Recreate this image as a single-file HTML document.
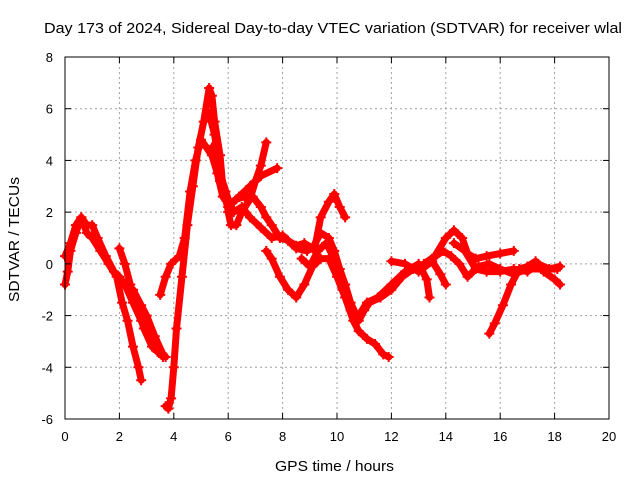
<!DOCTYPE html>
<html><head><meta charset="utf-8"><style>
html,body{margin:0;padding:0;background:#fff;}
svg{display:block;font-family:"Liberation Sans",sans-serif;}
</style></head><body>
<svg id="c" width="640" height="480">
<text x="44" y="33" font-size="15" textLength="578" lengthAdjust="spacingAndGlyphs">Day 173 of 2024, Sidereal Day-to-day VTEC variation (SDTVAR) for receiver wlal</text>
<text x="275" y="471" font-size="15" textLength="119" lengthAdjust="spacingAndGlyphs">GPS time / hours</text>
<text transform="translate(19,302) rotate(-90)" font-size="15" textLength="125" lengthAdjust="spacingAndGlyphs">SDTVAR / TECUs</text>
<g id="grid"></g><g id="marks"></g><g id="axes"></g>
</svg>
<script>
const xTicks=[0,2,4,6,8,10,12,14,16,18,20];
const yTicks=[-6,-4,-2,0,2,4,6,8];
const trackA=[[0,0.3],[0.2,0.8],[0.4,1.5],[0.6,1.8],[0.8,1.5],[1.0,1.5],[1.2,1.0],[1.5,0.3],[1.8,-0.3],[2.0,-0.5],[2.2,-0.8],[2.5,-1.5],[2.8,-2.2],[3.1,-2.8],[3.4,-3.3],[3.6,-3.6]];
const trackB=[[0,-0.8],[0.1,-0.3],[0.2,0.5],[0.4,1.2],[0.6,1.8],[0.8,1.2],[1.0,1.0],[1.3,0.5],[1.6,0],[1.9,-0.5],[2.1,-1.5],[2.3,-2.2],[2.5,-3.2],[2.7,-4.0],[2.8,-4.5]];
const trackC=[[2.0,0.6],[2.2,0],[2.4,-0.8],[2.6,-1.5],[2.9,-2.5],[3.2,-3.2],[3.4,-3.4],[3.7,-3.6]];
const trackD=[[2.5,-1],[2.8,-1.6],[3.0,-2],[3.3,-2.8],[3.6,-3.5]];
const trackE=[[3.7,-5.5],[3.8,-5.6],[3.9,-5.2],[4.0,-4.0],[4.1,-2.5],[4.3,-0.5],[4.5,1.5],[4.7,3.0],[4.9,4.5],[5.1,5.5],[5.3,6.8],[5.4,6.5],[5.5,5.5],[5.7,4.2],[5.8,3.0],[5.9,2.8],[6.0,2.0],[6.1,1.5],[6.3,1.5],[6.5,2.0],[6.8,2.5],[7.0,3.2],[7.2,3.8],[7.4,4.7]];
const trackF=[[3.5,-1.2],[3.7,-0.5],[3.9,0],[4.2,0.3],[4.4,1.0],[4.6,2.8],[4.8,4.0],[5.0,4.8],[5.2,4.5],[5.4,4.2],[5.6,3.5],[5.8,2.6],[6.0,2.3],[6.3,2.5],[6.6,2.6],[6.9,2.6],[7.2,2.2],[7.4,1.8],[7.6,1.5],[7.9,1.0],[8.2,0.9],[8.5,0.7],[8.8,0.8],[9.1,0.6],[9.4,1.2],[9.7,1.0],[9.9,0.5],[10.1,-0.2],[10.3,-0.8],[10.5,-1.5],[10.8,-2.2],[11.0,-1.8],[11.2,-1.5],[11.6,-1.3],[12.0,-1.0],[12.4,-0.5],[12.8,-0.2],[13.2,0],[13.6,0.3],[14.0,1.0],[14.3,1.3],[14.6,1.0],[14.8,0.4],[15.1,0.2],[15.5,0.3],[16.0,0.4],[16.5,0.5]];
const trackG=[[5.4,4.5],[5.7,3.2],[6.0,2.2],[6.4,2.6],[6.8,3.0],[7.2,3.4],[7.8,3.7]];
const trackH=[[5.3,5.8],[5.5,5.0],[5.7,3.5],[6.0,2.5],[6.2,2.0],[6.5,2.2],[6.8,1.8],[7.2,1.4],[7.6,1.0],[8.0,1.1],[8.5,0.6],[8.9,0.5],[9.2,0.7],[9.4,1.8],[9.7,2.4],[9.9,2.7],[10.1,2.2],[10.3,1.8]];
const trackI=[[7.4,0.5],[7.6,0.2],[7.9,-0.5],[8.2,-1.0],[8.5,-1.3],[8.8,-0.8],[9.1,-0.1],[9.4,0.2],[9.7,0.2],[10.0,-0.5],[10.3,-1.3],[10.6,-2.2],[10.8,-2.6],[11.1,-2.9],[11.4,-3.1],[11.7,-3.5],[11.9,-3.6]];
const trackJ=[[8.7,0.2],[9.0,-0.1],[9.3,0.5],[9.6,0.8],[9.9,0.2],[10.2,-1.0],[10.5,-1.8],[10.8,-2.0],[11.1,-1.5],[11.5,-1.3],[12,-0.8],[12.5,-0.3],[13,0],[13.3,-0.6],[13.4,-1.3]];
const trackK=[[12.0,0.1],[12.5,0],[13.0,-0.3],[13.5,0.1],[13.8,-0.4],[14.0,-0.8]];
const trackL=[[13.5,0.2],[13.9,0.5],[14.2,0.3],[14.5,0],[14.8,-0.5],[15.2,-0.1],[15.6,0],[16.0,-0.2],[16.5,-0.4],[17.0,-0.2],[17.5,-0.2],[18.1,-0.2]];
const trackM=[[15.6,-2.7],[15.8,-2.3],[16.1,-1.6],[16.4,-0.8],[16.7,-0.2],[17.0,-0.1],[17.3,0.1],[17.6,-0.3],[18.0,-0.6],[18.2,-0.8]];
const trackN=[[14.3,0.8],[14.7,0.5],[15.1,-0.2],[15.5,-0.3],[16,-0.3],[16.5,-0.2],[17,-0.3],[17.4,0],[17.8,-0.2],[18.2,-0.1]];
const tracks=[trackA,trackB,trackC,trackD,trackE,trackF,trackG,trackH,trackI,trackJ,trackK,trackL,trackM,trackN];

const X0=65,X1=609,Y0=419,Y1=57,xmin=0,xmax=20,ymin=-6,ymax=8;
const sx=v=>X0+(v-xmin)/(xmax-xmin)*(X1-X0);
const sy=v=>Y0-(v-ymin)/(ymax-ymin)*(Y0-Y1);
const NS="http://www.w3.org/2000/svg";
function mk(tag,attrs,parent){const e=document.createElementNS(NS,tag);for(const k in attrs)e.setAttribute(k,attrs[k]);parent.appendChild(e);return e;}
const grid=document.getElementById('grid'),marks=document.getElementById('marks'),axes=document.getElementById('axes');
xTicks.forEach(t=>{
  if(t>xmin&&t<xmax){const g=mk('line',{x1:sx(t),x2:sx(t),y1:Y0,y2:Y1,stroke:'#a0a0a0','stroke-dasharray':'2,3'},grid);
  
  }
  const l=mk('text',{x:sx(t),y:Y0+22,'font-size':13,'text-anchor':'middle'},axes);l.textContent=t;
  
  
  mk('line',{x1:sx(t),x2:sx(t),y1:Y0,y2:Y0-6,stroke:'#000'},axes);
  mk('line',{x1:sx(t),x2:sx(t),y1:Y1,y2:Y1+6,stroke:'#000'},axes);
});
yTicks.forEach(t=>{
  if(t>ymin&&t<ymax){const g=mk('line',{x1:X0,x2:X1,y1:sy(t),y2:sy(t),stroke:'#a0a0a0','stroke-dasharray':'2,3'},grid);
  
  }
  const l=mk('text',{x:X0-12,y:sy(t)+5,'font-size':13,'text-anchor':'end'},axes);l.textContent=t;
  
  
  mk('line',{x1:X0,x2:X0+6,y1:sy(t),y2:sy(t),stroke:'#000'},axes);
  mk('line',{x1:X1,x2:X1-6,y1:sy(t),y2:sy(t),stroke:'#000'},axes);
});
const fr=mk('rect',{x:X0,y:Y1,width:X1-X0,height:Y0-Y1,fill:'none',stroke:'#000'},axes);


tracks.forEach(tr=>{
  const p=mk('polyline',{points:tr.map(d=>sx(d[0])+','+sy(d[1])).join(' '),fill:'none',stroke:'#ff0000','stroke-width':7,'stroke-linejoin':'round','stroke-linecap':'round'},marks);
  
  
  tr.forEach(d=>{
    const m=mk('path',{d:`M${sx(d[0])-5},${sy(d[1])}h10M${sx(d[0])},${sy(d[1])-5}v10`,stroke:'#ff0000','stroke-width':2},marks);
    
    
  });
});
</script>
</body></html>
